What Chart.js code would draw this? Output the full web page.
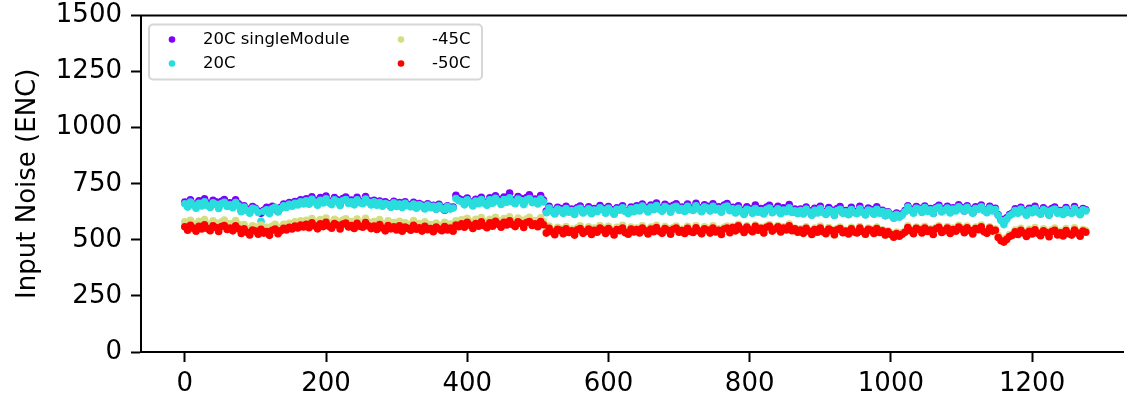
<!DOCTYPE html>
<html>
<head>
<meta charset="utf-8">
<title>Input Noise (ENC)</title>
<script src="https://cdn.jsdelivr.net/npm/chart.js@4.4.0/dist/chart.umd.min.js"></script>
<style>
    html, body { margin: 0; padding: 0; background: #fff; }
    #noise { display: block; }
</style>
</head>
<body>
<canvas id="noise" width="1127" height="400"></canvas>
<script>
// noise per channel, one value kept every channelStep channels (0 .. 1276)
const channelStep = 4;

const noiseSingleModule = [
    668, 655, 679, 660, 648, 674, 657, 683, 664, 651, 676, 669, 646, 672, 680, 658, 665, 649, 678, 661,
    630, 652, 637, 624, 648, 641, 628, 618, 633, 645, 622, 650, 639, 627,
    645, 659, 650, 666, 655, 671, 663, 678, 668,
    683, 665, 692, 676, 661, 688, 670, 695, 673, 664, 689, 679, 659, 684, 691, 668, 677, 662, 690, 672, 667, 693, 675, 660,
    676, 659, 673, 655, 669, 662, 648, 672, 654, 666, 650, 670, 657, 651, 667, 645, 662, 655, 641, 661, 647, 654, 637, 658, 645, 632, 652, 640, 646,
    698, 684,
    678, 660, 686, 670, 655, 681, 666, 690, 668, 658,
    687, 670, 696, 681, 664, 691, 676, 708, 679, 667, 693, 684, 662, 688, 701, 673, 682, 666, 697, 677,
    628, 650, 633, 619, 645, 639, 622, 649, 630, 637, 616, 644, 651, 624, 634, 647, 620, 640, 631, 653, 641, 623, 648, 635, 617, 643, 638, 652, 629, 621, 646, 632,
    652, 634, 660, 645, 629, 655, 640, 664, 643, 632, 658, 649, 627, 654, 661, 637, 646, 630, 659, 642, 636, 663, 644, 628, 656, 650, 633, 661, 639, 647, 626, 655, 662, 635,
    645, 626, 652, 633, 617, 647, 638, 622, 655, 629, 640, 619, 646, 654, 627, 636, 650, 621, 643, 631, 657, 628, 637, 620,
    637, 619, 646, 630, 612, 641, 624, 650, 627, 616, 644, 633, 611, 639, 648, 621, 631, 614, 645, 626, 620, 649, 629, 613, 642, 635, 617, 647, 622, 632, 608, 625,
    612, 598, 619, 604, 616,
    630, 652, 637, 623, 648, 641, 627, 651, 632, 640, 619, 645, 654, 628, 638, 650, 624, 643, 633, 656, 644, 629, 652, 637, 621, 647, 642, 655, 634, 625, 649, 636, 641,
    612, 591, 580, 598, 613,
    619, 638, 624, 645, 629, 613, 641, 626, 650, 628, 617, 643, 633, 612, 639, 646, 623, 631, 616, 644, 627, 621, 648, 630, 615, 640, 634
];

const noise20C = [
    661, 646, 668, 655, 641, 663, 651, 670, 653, 644, 665, 658, 640, 662, 667, 649, 656, 643, 666, 652,
    625, 646, 631, 619, 641, 636, 622, 583, 627, 634, 617, 640, 645, 624,
    640, 652, 644, 658, 650, 663, 655, 669, 660,
    674, 659, 681, 668, 654, 676, 664, 683, 666, 657, 678, 671, 653, 675, 680, 662, 669, 656, 679, 665, 661, 682, 667, 655,
    669, 654, 666, 650, 662, 657, 645, 665, 649, 659, 644, 663, 652, 647, 660, 641, 656, 650, 638, 655, 643, 649, 636, 652, 640, 634, 648, 637, 642,
    684, 674,
    671, 656, 678, 665, 651, 673, 661, 680, 663, 654,
    678, 663, 685, 672, 658, 680, 668, 687, 670, 661, 682, 675, 657, 679, 684, 666, 673, 660, 683, 669,
    621, 642, 627, 615, 637, 632, 618, 640, 623, 630, 613, 636, 641, 620, 628, 638, 616, 633, 625, 643, 634, 619, 641, 628, 614, 636, 632, 643, 626, 617, 638, 625,
    644, 629, 651, 638, 624, 646, 634, 653, 636, 627, 648, 641, 623, 645, 650, 632, 639, 626, 649, 635, 631, 652, 637, 625, 647, 642, 628, 650, 633, 640, 623, 646, 651, 630,
    638, 620, 641, 626, 613, 636, 632, 618, 640, 623, 630, 615, 636, 642, 621, 628, 638, 616, 633, 625, 643, 622, 629, 617,
    630, 615, 637, 624, 610, 632, 620, 639, 622, 613, 634, 627, 609, 631, 636, 618, 625, 612, 635, 621, 617, 638, 623, 611, 633, 628, 614, 636, 619, 626, 608, 622,
    608, 596, 613, 601, 610,
    625, 646, 631, 619, 641, 636, 622, 644, 627, 634, 617, 640, 645, 624, 632, 642, 620, 637, 629, 647, 638, 628, 645, 632, 618, 640, 636, 647, 630, 621, 642, 629, 635,
    608, 586, 568, 592, 607,
    615, 631, 618, 637, 624, 610, 633, 621, 640, 623, 614, 635, 628, 610, 632, 637, 619, 626, 613, 636, 622, 618, 639, 624, 612, 634, 629
];

const noiseMinus45C = [
    580, 562, 587, 570, 556, 583, 566, 590, 569, 559, 585, 575, 553, 579, 588, 564, 573, 558, 586, 568,
    545, 568, 551, 538, 563, 557, 541, 566, 548, 556, 535, 561, 569, 543,
    556, 569, 561, 574, 565, 580, 571, 585, 575,
    587, 570, 595, 580, 564, 590, 575, 597, 578, 567, 592, 584, 562, 588, 594, 572, 581, 566, 593, 577, 571, 596, 579, 565,
    582, 565, 590, 572, 558, 585, 568, 577, 561, 583, 555, 576, 569, 560, 586, 564, 573, 556, 580, 562, 568, 551, 575, 565, 557, 578, 560, 570, 553,
    585, 576,
    589, 572, 596, 582, 566, 591, 577, 599, 580, 570,
    592, 575, 600, 585, 569, 595, 580, 603, 583, 572, 597, 588, 567, 593, 600, 578, 586, 571, 598, 582,
    537, 561, 544, 529, 556, 550, 533, 559, 540, 548, 526, 554, 562, 535, 545, 558, 530, 552, 541, 564, 553, 534, 560, 546, 528, 556, 549, 565, 538, 531, 557, 543,
    553, 536, 562, 546, 530, 557, 541, 565, 544, 533, 559, 550, 528, 555, 561, 538, 547, 531, 560, 542, 537, 563, 545, 529, 558, 551, 534, 562, 540, 549, 526, 556, 561, 536,
    560, 542, 569, 551, 534, 563, 549, 538, 566, 546, 556, 532, 561, 568, 541, 552, 564, 537, 558, 547, 570, 543, 553, 535,
    549, 531, 558, 542, 525, 552, 537, 561, 540, 528, 555, 546, 522, 550, 557, 534, 543, 527, 556, 539, 533, 559, 541, 524, 553, 547, 530, 557, 536, 545, 520, 540,
    530, 516, 535, 521, 532,
    538, 562, 545, 530, 557, 551, 534, 560, 541, 549, 527, 555, 563, 536, 546, 559, 531, 553, 542, 565, 554, 535, 561, 547, 529, 557, 550, 566, 539, 532, 558, 544, 548,
    520, 505, 498, 510, 523,
    525, 544, 529, 551, 536, 519, 547, 532, 555, 534, 522, 549, 540, 518, 545, 552, 527, 538, 521, 550, 533, 526, 554, 537, 520, 546, 541
];

const noiseMinus50C = [
    558, 543, 565, 552, 538, 560, 548, 567, 550, 541, 562, 555, 537, 559, 564, 546, 553, 540, 563, 549,
    528, 549, 534, 522, 544, 539, 525, 547, 530, 537, 520, 543, 548, 527,
    540, 551, 544, 556, 548, 561, 553, 566, 557,
    569, 554, 576, 563, 549, 571, 559, 578, 561, 552, 573, 566, 548, 570, 575, 557, 564, 551, 574, 560, 556, 577, 562, 550,
    561, 546, 568, 553, 540, 564, 549, 558, 544, 562, 538, 557, 551, 543, 565, 547, 554, 539, 560, 545, 550, 536, 557, 548, 541, 559, 544, 552, 538,
    566, 558,
    571, 556, 578, 565, 551, 573, 561, 580, 563, 554,
    576, 561, 583, 570, 556, 578, 566, 585, 568, 559, 580, 573, 555, 577, 582, 564, 571, 558, 581, 567,
    530, 551, 536, 523, 547, 542, 527, 549, 533, 540, 521, 545, 550, 529, 537, 548, 524, 543, 534, 552, 544, 528, 550, 538, 522, 546, 541, 553, 532, 525, 548, 535,
    546, 531, 553, 540, 526, 548, 536, 555, 538, 529, 550, 543, 525, 547, 552, 534, 541, 528, 551, 537, 533, 554, 539, 527, 549, 544, 530, 552, 535, 542, 524, 548, 553, 532,
    555, 540, 562, 547, 533, 557, 545, 536, 560, 543, 551, 531, 556, 561, 539, 548, 558, 535, 553, 544, 563, 541, 549, 534,
    544, 529, 551, 538, 524, 546, 534, 553, 536, 527, 548, 541, 523, 545, 550, 532, 539, 526, 549, 535, 531, 552, 537, 525, 547, 542, 528, 550, 533, 540, 522, 536,
    524, 512, 528, 516, 525,
    534, 555, 540, 527, 551, 545, 531, 553, 537, 544, 524, 549, 556, 533, 541, 552, 528, 546, 538, 557, 547, 532, 554, 541, 526, 550, 545, 558, 536, 529, 552, 539, 543,
    510, 496, 490, 502, 515,
    520, 536, 524, 542, 530, 515, 538, 526, 545, 529, 518, 540, 533, 514, 537, 543, 522, 531, 517, 541, 527, 521, 544, 530, 516, 539, 534
];

const seriesLabels = ["20C singleModule", "20C", "-45C", "-50C"];
const seriesValues = [noiseSingleModule, noise20C, noiseMinus45C, noiseMinus50C];
const seriesColors = ["#8000ff", "#2adddd", "#d4dd80", "#ff0000"];
const xTicks = [0, 200, 400, 600, 800, 1000, 1200];
const yTicks = [0, 250, 500, 750, 1000, 1250, 1500];

const tickFont = { family: "'DejaVu Sans', sans-serif", size: 26 };
// small line height so the top label does not push the plot area down
const yTickFont = { family: "'DejaVu Sans', sans-serif", size: 26, lineHeight: 0.5 };

function toPoints(values) {
    return values.map((value, i) => ({ x: i * channelStep, y: value }));
}

// top spine, the chart has no right spine
const topSpine = {
    id: "topSpine",
    afterDraw(chart) {
        const { ctx, chartArea } = chart;
        ctx.save();
        ctx.strokeStyle = "#000";
        ctx.lineWidth = 2;
        ctx.beginPath();
        ctx.moveTo(chartArea.left - 1, chartArea.top);
        ctx.lineTo(chart.width, chartArea.top);
        ctx.stroke();
        ctx.restore();
    }
};

// two column legend in the upper left corner of the axes
const legendBox = {
    id: "legendBox",
    afterDraw(chart) {
        const { ctx, chartArea } = chart;
        const left = chartArea.left + 8, top = chartArea.top + 9;
        ctx.save();
        ctx.fillStyle = "rgba(255, 255, 255, 0.8)";
        ctx.strokeStyle = "#d6d6d6";
        ctx.lineWidth = 2;
        ctx.beginPath();
        ctx.roundRect(left, top, 333, 55, 4);
        ctx.fill();
        ctx.stroke();

        ctx.font = "16.5px 'DejaVu Sans', sans-serif";
        ctx.textBaseline = "middle";
        seriesLabels.forEach((label, i) => {
            const col = Math.floor(i / 2), row = i % 2;
            const y = top + 15 + row * 24;
            const dotX = left + 23 + col * 229;
            ctx.fillStyle = seriesColors[i];
            ctx.beginPath();
            ctx.arc(dotX, y, 3.3, 0, Math.PI * 2);
            ctx.fill();
            ctx.fillStyle = "#000";
            ctx.fillText(label, dotX + 31, y);
        });
        ctx.restore();
    }
};

function renderChart() {
    const canvas = document.querySelector("#noise");

    // later series are drawn over earlier ones
    const datasets = seriesLabels.map((label, i) => ({
        label: label,
        data: toPoints(seriesValues[i]),
        backgroundColor: seriesColors[i],
        borderColor: seriesColors[i],
        borderWidth: 0,
        pointRadius: 3.8,
        pointHoverRadius: 3.8,
        order: seriesLabels.length - i
    }));

    new Chart(canvas, {
        type: "scatter",
        data: { datasets },
        options: {
            responsive: false,
            animation: false,
            events: [],
            layout: { padding: { top: 15, right: 0, bottom: 0, left: 0 } },
            plugins: {
                legend: { display: false },
                tooltip: { enabled: false }
            },
            scales: {
                x: {
                    type: "linear",
                    min: -62,
                    max: 1329,
                    afterBuildTicks: scale => { scale.ticks = xTicks.map(v => ({ value: v })); },
                    afterFit: scale => { scale.height = 48; },
                    grid: { drawOnChartArea: false, drawTicks: true, tickLength: 10, tickWidth: 2, tickColor: "#000" },
                    border: { display: true, color: "#000", width: 2 },
                    ticks: { color: "#000", font: tickFont, padding: 7, maxRotation: 0, autoSkip: false, callback: v => String(v) }
                },
                y: {
                    type: "linear",
                    min: 0,
                    max: 1500,
                    afterBuildTicks: scale => { scale.ticks = yTicks.map(v => ({ value: v })); },
                    afterFit: scale => { scale.width = 141; },
                    grid: { drawOnChartArea: false, drawTicks: true, tickLength: 10, tickWidth: 2, tickColor: "#000" },
                    border: { display: true, color: "#000", width: 2 },
                    ticks: { color: "#000", font: yTickFont, padding: 9, autoSkip: false, callback: v => String(v) },
                    title: {
                        display: true,
                        text: "Input Noise (ENC)",
                        color: "#000",
                        font: tickFont,
                        padding: { top: 13, bottom: 0 }
                    }
                }
            }
        },
        plugins: [topSpine, legendBox]
    });
}

window.addEventListener("load", renderChart);
</script>
</body>
</html>
